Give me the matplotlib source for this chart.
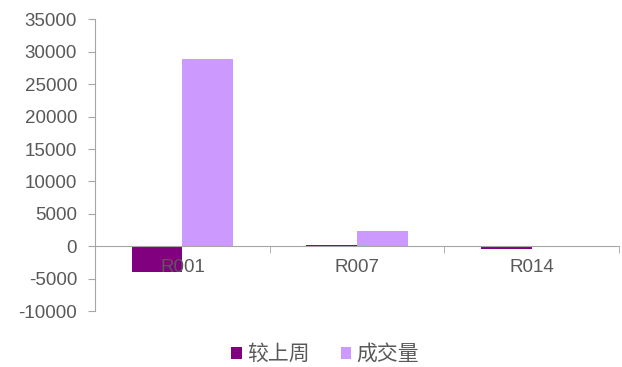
import numpy as np
import matplotlib.pyplot as plt

plt.rcParams['font.family'] = ['Liberation Sans', 'Noto Sans CJK SC', 'DejaVu Sans']
plt.rcParams['axes.unicode_minus'] = False

categories = ["R001", "R007", "R014"]
series_names = ["较上周", "成交量"]
change_week = [-3900, 250, -350]
volume = [28900, 2400, 30]

colors = ["#800080", "#CC99FF"]
text_color = "#595959"
axis_color = "#A6A6A6"

fig = plt.figure(figsize=(6.22, 3.67), dpi=100)
ax = fig.add_axes([0.153, 0.152, 0.842, 0.7955])

x = np.arange(len(categories))
w = 0.29
ax.bar(x - w / 2, change_week, w, color=colors[0], label=series_names[0])
ax.bar(x + w / 2, volume, w, color=colors[1], label=series_names[1])

ax.set_xlim(-0.5, 2.5)
ax.set_ylim(-10000, 35000)
ax.set_yticks(np.arange(-10000, 35001, 5000))

for side in ["top", "right"]:
    ax.spines[side].set_visible(False)
ax.spines["bottom"].set_position(("data", 0))
ax.spines["bottom"].set_color(axis_color)
ax.spines["left"].set_color(axis_color)

ax.set_xticks(x)
ax.set_xticklabels(categories)
ax.set_xticks([0.5, 1.5, 2.5], minor=True)
ax.tick_params(axis="x", which="major", length=0, pad=9,
               labelsize=13.5, labelcolor=text_color)
ax.tick_params(axis="x", which="minor", length=5, direction="out",
               color=axis_color)
ax.tick_params(axis="y", length=5, direction="out", color=axis_color,
               labelsize=13.5, labelcolor=text_color, pad=8)

fig.legend(loc="center", bbox_to_anchor=(0.523, 0.035), ncol=2,
           frameon=False, fontsize=15, handlelength=0.5, handleheight=0.5,
           handletextpad=0.25, columnspacing=1.5, labelcolor=text_color)

fig.savefig("out.png", dpi=100)
